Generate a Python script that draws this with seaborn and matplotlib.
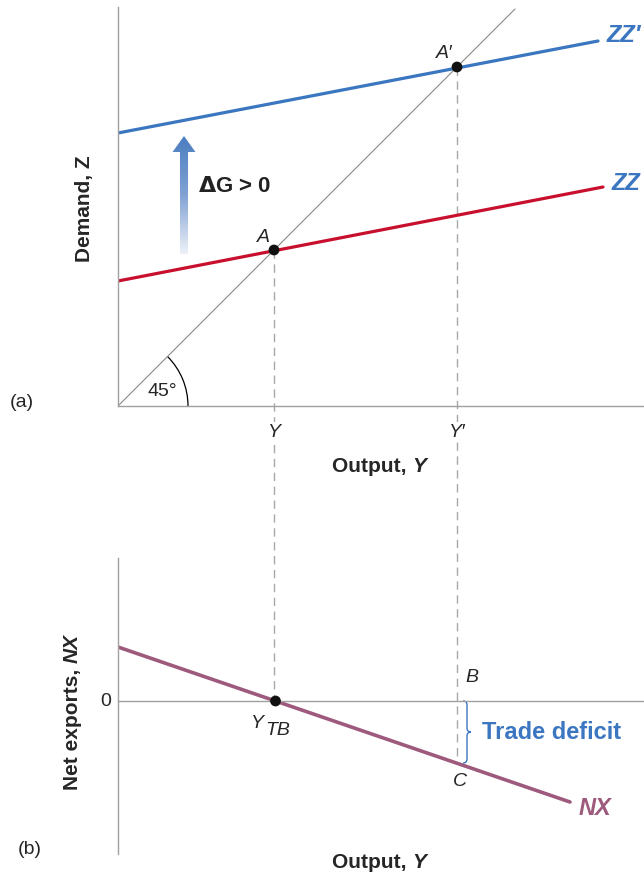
import numpy as np
import pandas as pd
import matplotlib
matplotlib.use('Agg')
import matplotlib.pyplot as plt
import seaborn as sns
from matplotlib.path import Path
from matplotlib.patches import PathPatch, Polygon, Arc
from matplotlib.colors import LinearSegmentedColormap

# --- values (units ~ pixels from each origin) ---
output_end = [0, 485]
zz = [125, 219]
output_end_new = [0, 480]
zz_new = [273, 365]
line45 = [0, 397]
eq_output = [156, 339]          # Y and Y'
eq_demand = [156, 339]          # points on the 45-degree line
nx_output = [0, 452]
nx = [54, -101]
y_tb = 157.5
deficit_output = 339
deficit_nx = -62

blue = '#3b76c1'
red = '#c8102e'
mauve = '#9e5a7c'
grey = '#a0a0a0'

sns.set_style('white')
plt.rcParams['font.family'] = ['Liberation Sans', 'DejaVu Sans']

fig = plt.figure(figsize=(6.44, 8.79), dpi=100)
W, H = 644, 879
ax = fig.add_axes([118 / W, (H - 407) / H, 526 / W, 399 / H])
ax2 = fig.add_axes([118 / W, (H - 855) / H, 526 / W, 296 / H])
for a in (ax, ax2):
    a.patch.set_visible(False)
    a.set_xlim(0, 526)
    a.set_xticks([])
    a.set_yticks([])
    for s in ['top', 'right']:
        a.spines[s].set_visible(False)
    for s in ['left', 'bottom']:
        a.spines[s].set_color(grey)
        a.spines[s].set_linewidth(1.0)
ax.set_ylim(0, 399)
ax2.set_ylim(-153, 143)
ax2.spines['bottom'].set_position(('data', 0))

# ---------------- panel (a) ----------------
sns.lineplot(x=line45, y=line45, ax=ax, color='#8a8a8a', lw=0.8)
sns.lineplot(x=output_end, y=zz, ax=ax, color=red, lw=2.3)
sns.lineplot(x=output_end_new, y=zz_new, ax=ax, color=blue, lw=2.3)

# dashed drop lines down through both panels
dash_bottom = [-(702 - 407), -(702 - 407) + deficit_nx]
for xv, yv, yb in zip(eq_output, eq_demand, dash_bottom):
    ax.plot([xv, xv], [yv, yb], color='#a8a8a8', lw=1.0, dashes=(6, 4),
            clip_on=False, zorder=1)

sns.scatterplot(x=eq_output, y=eq_demand, ax=ax, color='#111111', s=60,
                edgecolor='none', zorder=5)

ax.add_patch(Arc((0, 0), 140, 140, theta1=0, theta2=45, color='black', lw=0.9))
ax.text(30, 15, '45°', fontsize=14, va='center', ha='left')

# gradient arrow for Delta G
arrow = Polygon([(66, 270), (54.5, 254), (62, 254), (62, 152), (70, 152),
                 (70, 254), (77.5, 254)], closed=True, facecolor='none',
                edgecolor='none')
ax.add_patch(arrow)
cmap = LinearSegmentedColormap.from_list('fade', ['#eef2f9', '#7fa2d3', '#4a7cc0'])
grad = np.linspace(0, 1, 256).reshape(-1, 1)
im = ax.imshow(grad, extent=(54, 78, 152, 271), origin='lower', cmap=cmap,
               aspect='auto', zorder=3)
im.set_clip_path(arrow)
ax.set_xlim(0, 526)
ax.set_ylim(0, 399)

ax.text(80, 221, r'$\mathbf{\Delta}$G > 0', fontsize=16, fontweight='bold',
        va='center', ha='left', color='#222222')
ax.text(145, 169, 'A', fontsize=14, style='italic', ha='center', va='center')
ax.text(326, 354, 'A′', fontsize=14, style='italic', ha='center', va='center')
ax.text(489, 372, 'ZZ′', fontsize=17, fontweight='bold', style='italic',
        color=blue, va='center', ha='left')
ax.text(494, 223, 'ZZ', fontsize=17, fontweight='bold', style='italic',
        color=blue, va='center', ha='left')
for xv, lab in zip(eq_output, ['Y', 'Y′']):
    ax.text(xv, -26, lab, fontsize=14, style='italic', ha='center', va='center',
            zorder=6, bbox=dict(facecolor='white', edgecolor='none', pad=1))
ax.text(294, -60, 'Output, ', fontsize=15, fontweight='bold', ha='right',
        va='center')
ax.text(294, -60, 'Y', fontsize=15, fontweight='bold', style='italic',
        ha='left', va='center')
ax.text(-34, 198, 'Demand, Z', fontsize=15, fontweight='bold', rotation=90,
        ha='center', va='center')
ax.text(-96, 4, '(a)', fontsize=14, ha='center', va='center')

# ---------------- panel (b) ----------------
sns.lineplot(x=nx_output, y=nx, ax=ax2, color=mauve, lw=2.6)
sns.scatterplot(x=[y_tb], y=[0], ax=ax2, color='#111111', s=60,
                edgecolor='none', zorder=5)

# brace for trade deficit
bx, bw, r = 345, 8, 4
ymid = deficit_nx / 2
verts = [(bx, 0), (bx + bw / 2, 0), (bx + bw / 2, -r),
         (bx + bw / 2, ymid + r), (bx + bw / 2, ymid), (bx + bw, ymid),
         (bx + bw / 2, ymid), (bx + bw / 2, ymid - r),
         (bx + bw / 2, deficit_nx + r), (bx + bw / 2, deficit_nx), (bx, deficit_nx)]
codes = [Path.MOVETO, Path.CURVE3, Path.CURVE3, Path.LINETO, Path.CURVE3,
         Path.CURVE3, Path.CURVE3, Path.CURVE3, Path.LINETO, Path.CURVE3,
         Path.CURVE3]
ax2.add_patch(PathPatch(Path(verts, codes), facecolor='none', edgecolor=blue,
                        lw=1.0))

ax2.text(-7, 0, '0', fontsize=14, ha='right', va='center')
ax2.text(139, -22, 'Y', fontsize=14, style='italic', ha='center', va='center')
ax2.text(147, -29, 'TB', fontsize=14, style='italic', ha='left', va='center')
ax2.text(354, 24, 'B', fontsize=14, style='italic', ha='center', va='center')
ax2.text(342, -80, 'C', fontsize=14, style='italic', ha='center', va='center')
ax2.text(364, -31, 'Trade deficit', fontsize=17, fontweight='bold', color=blue,
         ha='left', va='center')
ax2.text(461, -107, 'NX', fontsize=17, fontweight='bold', style='italic',
         color=mauve, ha='left', va='center')
ax2.text(294, -161, 'Output, ', fontsize=15, fontweight='bold', ha='right',
         va='center')
ax2.text(294, -161, 'Y', fontsize=15, fontweight='bold', style='italic',
         ha='left', va='center')
ax2.text(-46, 39, 'Net exports, ', fontsize=15, fontweight='bold', rotation=90,
         ha='center', va='top')
ax2.text(-46, 39, 'NX', fontsize=15, fontweight='bold', style='italic',
         rotation=90, ha='center', va='bottom')
ax2.text(-88, -148, '(b)', fontsize=14, ha='center', va='center')

fig.savefig('out.png', dpi=100)
